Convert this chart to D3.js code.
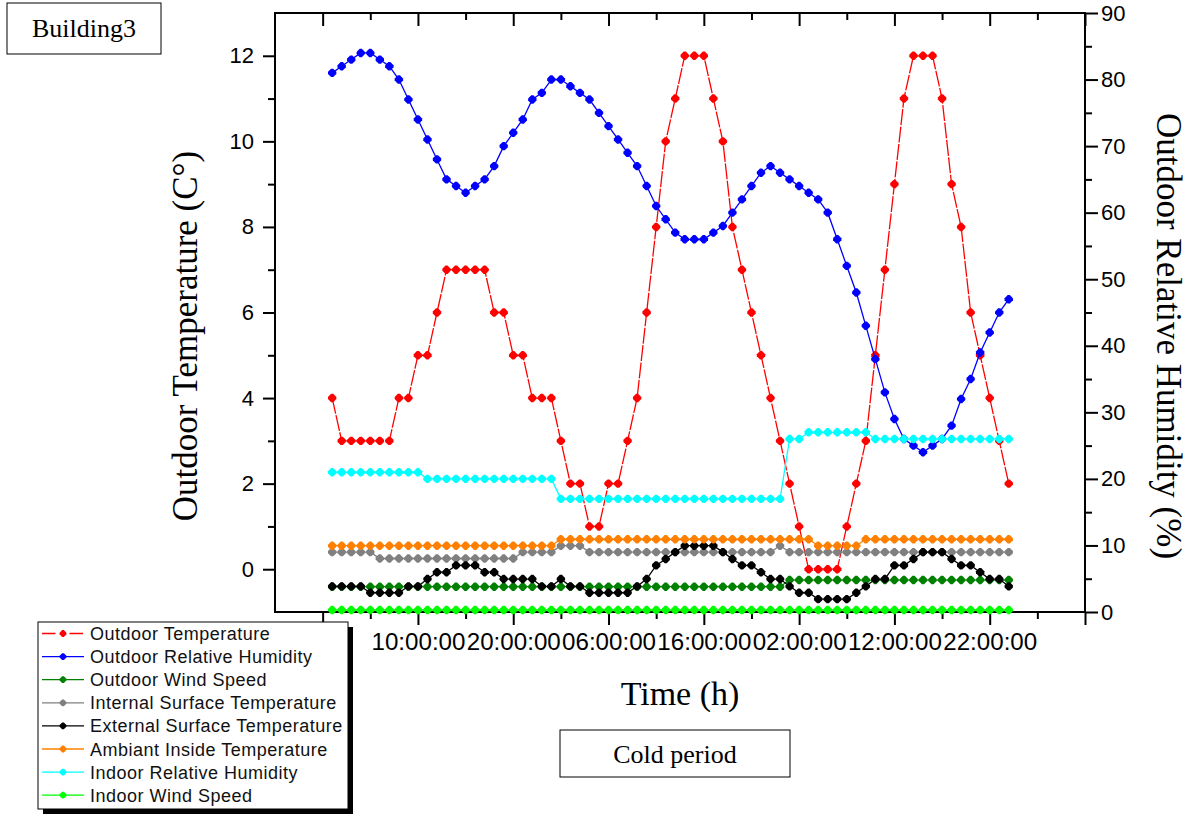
<!DOCTYPE html>
<html>
<head>
<meta charset="utf-8">
<script src="https://cdn.jsdelivr.net/npm/d3@7"></script>
<style>
  html, body { margin: 0; padding: 0; background: #fff; }
  svg { display: block; }
</style>
</head>
<body>
<svg id="chart" width="1192" height="814"></svg>
<script>
// ---------------- DATA ----------------
const hours = d3.range(1, 73); // hourly readings, hour 1 .. 72

const outdoorTemperature = [4,3,3,3,3,3,3,4,4,5,5,6,7,7,7,7,7,6,6,5,5,4,4,4,3,2,2,1,1,2,2,3,4,6,8,10,11,12,12,12,11,10,8,7,6,5,4,3,2,1,0,0,0,0,1,2,3,5,7,9,11,12,12,12,11,9,8,6,5,4,3,2];

const outdoorRelativeHumidity = [81,82,83,84,84,83,82,80,77,74,71,68,65,64,63,64,65,67,70,72,74,77,78,80,80,79,78,77,75,73,71,69,67,64,61,59,57,56,56,56,57,58,60,62,64,66,67,66,65,64,63,62,60,56,52,48,43,38,33,29,26,25,24,25,26,28,32,35,39,42,45,47];

const outdoorWindSpeed = [3.8,3.8,3.8,3.8,3.8,3.8,3.8,3.8,3.8,3.8,3.8,3.8,3.8,3.8,3.8,3.8,3.8,3.8,3.8,3.8,3.8,3.8,3.8,3.8,3.8,3.8,3.8,3.8,3.8,3.8,3.8,3.8,3.8,3.8,3.8,3.8,3.8,3.8,3.8,3.8,3.8,3.8,3.8,3.8,3.8,3.8,3.8,3.8,4.8,4.8,4.8,4.8,4.8,4.8,4.8,4.8,4.8,4.8,4.8,4.8,4.8,4.8,4.8,4.8,4.8,4.8,4.8,4.8,4.8,4.8,4.8,4.8];

const internalSurfaceTemperature = [0.4,0.4,0.4,0.4,0.4,0.25,0.25,0.25,0.25,0.25,0.25,0.25,0.25,0.25,0.25,0.25,0.25,0.25,0.25,0.25,0.4,0.4,0.4,0.4,0.55,0.55,0.55,0.4,0.4,0.4,0.4,0.4,0.4,0.4,0.4,0.4,0.4,0.4,0.4,0.4,0.4,0.4,0.4,0.4,0.4,0.4,0.4,0.55,0.4,0.4,0.4,0.4,0.4,0.4,0.4,0.4,0.4,0.4,0.4,0.4,0.4,0.4,0.4,0.4,0.4,0.4,0.4,0.4,0.4,0.4,0.4,0.4];

const externalSurfaceTemperature = [-0.4,-0.4,-0.4,-0.4,-0.55,-0.55,-0.55,-0.55,-0.4,-0.4,-0.23,-0.07,-0.07,0.09,0.09,0.09,-0.07,-0.07,-0.23,-0.23,-0.23,-0.23,-0.4,-0.4,-0.23,-0.4,-0.4,-0.55,-0.55,-0.55,-0.55,-0.55,-0.4,-0.23,0.09,0.24,0.4,0.55,0.55,0.55,0.55,0.4,0.24,0.09,0.09,-0.07,-0.23,-0.23,-0.4,-0.55,-0.55,-0.7,-0.7,-0.7,-0.7,-0.55,-0.4,-0.23,-0.23,0.09,0.09,0.24,0.4,0.4,0.4,0.24,0.09,0.09,-0.07,-0.23,-0.23,-0.4];

const ambiantInsideTemperature = [0.55,0.55,0.55,0.55,0.55,0.55,0.55,0.55,0.55,0.55,0.55,0.55,0.55,0.55,0.55,0.55,0.55,0.55,0.55,0.55,0.55,0.55,0.55,0.55,0.7,0.7,0.7,0.7,0.7,0.7,0.7,0.7,0.7,0.7,0.7,0.7,0.7,0.7,0.7,0.7,0.7,0.7,0.7,0.7,0.7,0.7,0.7,0.7,0.7,0.7,0.7,0.55,0.55,0.55,0.55,0.55,0.7,0.7,0.7,0.7,0.7,0.7,0.7,0.7,0.7,0.7,0.7,0.7,0.7,0.7,0.7,0.7];

const indoorRelativeHumidity = [21,21,21,21,21,21,21,21,21,21,20,20,20,20,20,20,20,20,20,20,20,20,20,20,17,17,17,17,17,17,17,17,17,17,17,17,17,17,17,17,17,17,17,17,17,17,17,17,26,26,27,27,27,27,27,27,27,26,26,26,26,26,26,26,26,26,26,26,26,26,26,26];

const indoorWindSpeed = [0.3,0.3,0.3,0.3,0.3,0.3,0.3,0.3,0.3,0.3,0.3,0.3,0.3,0.3,0.3,0.3,0.3,0.3,0.3,0.3,0.3,0.3,0.3,0.3,0.3,0.3,0.3,0.3,0.3,0.3,0.3,0.3,0.3,0.3,0.3,0.3,0.3,0.3,0.3,0.3,0.3,0.3,0.3,0.3,0.3,0.3,0.3,0.3,0.3,0.3,0.3,0.3,0.3,0.3,0.3,0.3,0.3,0.3,0.3,0.3,0.3,0.3,0.3,0.3,0.3,0.3,0.3,0.3,0.3,0.3,0.3,0.3];

const xMajorTicks = [0,10,20,30,40,50,60,70,80];
const xTickLabels = {10:"10:00:00", 20:"20:00:00", 30:"06:00:00", 40:"16:00:00", 50:"02:00:00", 60:"12:00:00", 70:"22:00:00"};
const xMinorTicks = [5,15,25,35,45,55,65,75];
const leftMajorTicks = [0,2,4,6,8,10,12];
const leftMinorTicks = [1,3,5,7,9,11];
const rightMajorTicks = [0,10,20,30,40,50,60,70,80,90];
const rightMinorTicks = [5,15,25,35,45,55,65,75,85];

const seriesNames = ["Outdoor Temperature","Outdoor Relative Humidity","Outdoor Wind Speed","Internal Surface Temperature","External Surface Temperature","Ambiant Inside Temperature","Indoor Relative Humidity","Indoor Wind Speed"];
const seriesValues = [outdoorTemperature, outdoorRelativeHumidity, outdoorWindSpeed, internalSurfaceTemperature, externalSurfaceTemperature, ambiantInsideTemperature, indoorRelativeHumidity, indoorWindSpeed];
const seriesAxis = ["left","right","right","left","left","left","right","right"];
const seriesColors = ["#ff0000","#0000ff","#008000","#808080","#000000","#ff8000","#00ffff","#00ff00"];

// ---------------- CHART ----------------
const svg = d3.select("#chart");
const L = 275, R = 1085, T = 13, B = 612;
const sansFont = "'Liberation Sans', Arial, sans-serif";
const serifFont = "'Liberation Serif', 'Times New Roman', serif";

const x = d3.scaleLinear().domain([-5, 80]).range([L, R]);
const yL = d3.scaleLinear().domain([-1, 13]).range([B, T]);
const yR = d3.scaleLinear().domain([0, 90]).range([B, T]);

function styleAxis(g) {
  g.select(".domain").remove();
  g.selectAll(".tick line").attr("stroke", "#000").attr("stroke-width", 2);
  g.selectAll(".tick text").attr("fill", "#000").attr("font-family", sansFont);
}

// bottom axis
svg.append("g").attr("transform", `translate(0,${B})`)
  .call(d3.axisBottom(x).tickValues(xMajorTicks).tickSize(13).tickPadding(9)
        .tickFormat(d => xTickLabels[d] || ""))
  .call(styleAxis)
  .call(g => g.selectAll(".tick text").attr("font-size", 23)
        .attr("textLength", d => xTickLabels[d] ? 94 : null)
        .attr("lengthAdjust", "spacingAndGlyphs"));
svg.append("g").attr("transform", `translate(0,${B})`)
  .call(d3.axisBottom(x).tickValues(xMinorTicks).tickSize(7).tickFormat(""))
  .call(styleAxis);
// top axis (inward ticks)
svg.append("g").attr("transform", `translate(0,${T})`)
  .call(d3.axisTop(x).tickValues(xMajorTicks).tickSize(-13).tickFormat(""))
  .call(styleAxis);
svg.append("g").attr("transform", `translate(0,${T})`)
  .call(d3.axisTop(x).tickValues(xMinorTicks).tickSize(-7).tickFormat(""))
  .call(styleAxis);
// left axis
svg.append("g").attr("transform", `translate(${L},0)`)
  .call(d3.axisLeft(yL).tickValues(leftMajorTicks).tickSize(12).tickPadding(9).tickFormat(d3.format("d")))
  .call(styleAxis)
  .call(g => g.selectAll(".tick text").attr("font-size", 22));
svg.append("g").attr("transform", `translate(${L},0)`)
  .call(d3.axisLeft(yL).tickValues(leftMinorTicks).tickSize(7).tickFormat(""))
  .call(styleAxis);
// right axis
svg.append("g").attr("transform", `translate(${R},0)`)
  .call(d3.axisRight(yR).tickValues(rightMajorTicks).tickSize(13).tickPadding(3).tickFormat(d3.format("d")))
  .call(styleAxis)
  .call(g => g.selectAll(".tick text").attr("font-size", 22));
svg.append("g").attr("transform", `translate(${R},0)`)
  .call(d3.axisRight(yR).tickValues(rightMinorTicks).tickSize(7).tickFormat(""))
  .call(styleAxis);

// frame
svg.append("rect").attr("x", L).attr("y", T).attr("width", R - L).attr("height", B - T)
  .attr("fill", "none").attr("stroke", "#000").attr("stroke-width", 2);

// marker shape
const markerPath = (s) => `M${4*s},${-1*s}L${4*s},${1*s}L${1*s},${4*s}L${-1*s},${4*s}L${-4*s},${1*s}L${-4*s},${-1*s}L${-1*s},${-4*s}L${1*s},${-4*s}Z`;

// series
const plot = svg.append("g");
seriesValues.forEach((vals, i) => {
  const y = seriesAxis[i] === "left" ? yL : yR;
  const pts = hours.map((h, j) => [h, vals[j]]);
  const line = d3.line().x(d => x(d[0])).y(d => y(d[1]));
  const g = plot.append("g");
  g.append("path").datum(pts).attr("d", line)
    .attr("fill", "none").attr("stroke", seriesColors[i]).attr("stroke-width", 1.3)
    .attr("stroke-dasharray", i === 0 ? "16,1.5" : null);
  g.selectAll("path.m").data(pts).join("path").attr("class", "m")
    .attr("d", markerPath(1.05))
    .attr("transform", d => `translate(${x(d[0])},${y(d[1])})`)
    .attr("fill", seriesColors[i]);
});

// axis titles
svg.append("text").attr("transform", "translate(197,336) rotate(-90)")
  .attr("text-anchor", "middle").attr("font-family", serifFont).attr("font-size", 35)
  .attr("fill", "#000").text("Outdoor Temperature (C°)");
svg.append("text").attr("transform", "translate(1157,336) rotate(90)")
  .attr("text-anchor", "middle").attr("font-family", serifFont).attr("font-size", 35)
  .attr("fill", "#000").text("Outdoor Relative Humidity (%)");
svg.append("text").attr("x", 680).attr("y", 705)
  .attr("text-anchor", "middle").attr("font-family", serifFont).attr("font-size", 34)
  .attr("fill", "#000").text("Time (h)");

// Building3 box
svg.append("rect").attr("x", 7).attr("y", 3).attr("width", 154).attr("height", 51)
  .attr("fill", "#fff").attr("stroke", "#000").attr("stroke-width", 1);
svg.append("text").attr("x", 84).attr("y", 37).attr("text-anchor", "middle")
  .attr("font-family", serifFont).attr("font-size", 26).attr("fill", "#000").text("Building3");

// Cold period box
svg.append("rect").attr("x", 560).attr("y", 730).attr("width", 230).attr("height", 47)
  .attr("fill", "#fff").attr("stroke", "#000").attr("stroke-width", 1);
svg.append("text").attr("x", 675).attr("y", 763).attr("text-anchor", "middle")
  .attr("font-family", serifFont).attr("font-size", 26).attr("fill", "#000").text("Cold period");

// Legend
const lg = svg.append("g");
lg.append("rect").attr("x", 43).attr("y", 627).attr("width", 310).attr("height", 187).attr("fill", "#000");
lg.append("rect").attr("x", 38).attr("y", 622).attr("width", 310).attr("height", 187)
  .attr("fill", "#fff").attr("stroke", "#000").attr("stroke-width", 1);
seriesNames.forEach((name, i) => {
  const cy = 633.5 + i * 23.1;
  lg.append("line").attr("x1", 42).attr("x2", 84).attr("y1", cy).attr("y2", cy)
    .attr("stroke", seriesColors[i]).attr("stroke-width", 1.3)
    .attr("stroke-dasharray", i === 0 ? "13.5,14" : null);
  lg.append("path").attr("d", markerPath(0.85)).attr("transform", `translate(63,${cy})`)
    .attr("fill", seriesColors[i]);
  lg.append("text").attr("x", 90).attr("y", cy + 6.5)
    .attr("font-family", sansFont).attr("font-size", 18).attr("letter-spacing", 0.5)
    .attr("fill", "#111").text(name);
});
</script>
</body>
</html>
